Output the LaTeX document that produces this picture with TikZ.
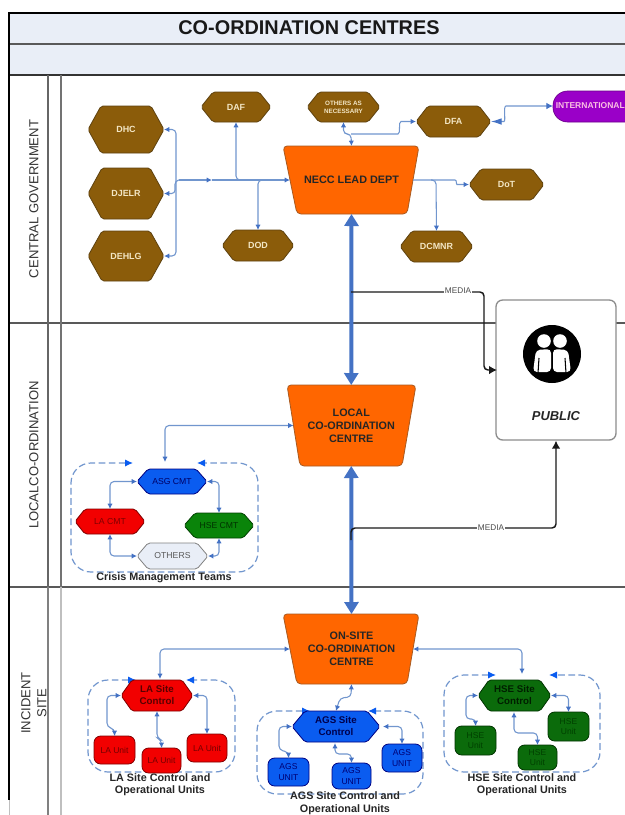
\documentclass[tikz,border=0pt]{standalone}
\usepackage{fontspec}
\setmainfont{Liberation Sans}
\usetikzlibrary{arrows.meta,calc}
\definecolor{band}{HTML}{E9EEF7}
\definecolor{brownfill}{HTML}{8B5C0A}
\definecolor{brownline}{HTML}{5E4210}
\definecolor{creamtext}{HTML}{F3E6C4}
\definecolor{orangefill}{HTML}{FF6600}
\definecolor{orangeline}{HTML}{A85A20}
\definecolor{connc}{HTML}{7196CE}
\definecolor{tipc}{HTML}{4472C4}
\definecolor{redfill}{HTML}{F20000}
\definecolor{bluefill}{HTML}{0A5CF0}
\definecolor{greenfill}{HTML}{0A840A}
\definecolor{dgreenfill}{HTML}{0B6B0B}
\definecolor{purplefill}{HTML}{9A00C8}
\newcommand{\fsz}[2]{\fontsize{#1}{#2}\selectfont}
\tikzset{
  brownhex/.style={fill=brownfill,draw=brownline,line width=.6pt},
  browntxt/.style={text=creamtext,font=\bfseries\fsz{6.7}{8}},
  trapfill/.style={fill=orangefill,draw=orangeline,line width=.6pt},
  traptxt/.style={text=black!85,font=\bfseries\fsz{8.1}{9.9}},
  redhex/.style={fill=redfill,draw=red!50!black,line width=.6pt},
  bluehex/.style={fill=bluefill,draw=blue!50!black,line width=.6pt},
  greenhex/.style={fill=greenfill,draw=green!25!black,line width=.6pt},
  dgreenhex/.style={fill=dgreenfill,draw=green!20!black,line width=.6pt},
  greyhex/.style={fill=band,draw=gray,line width=.6pt},
  conn/.style={draw=connc,line width=.8pt,rounded corners=3pt},
  dbl/.style={conn,{Latex[length=4pt,width=4pt,color=tipc]}-{Latex[length=4pt,width=4pt,color=tipc]}},
  sgl/.style={conn,-{Latex[length=4pt,width=4pt,color=tipc]}},
  thickarrow/.style={draw=tipc,line width=3pt,{Triangle[length=9pt,width=10.5pt]}-{Triangle[length=9pt,width=10.5pt]}},
  mediaarrow/.style={draw=black!90,line width=1.1pt,rounded corners=3pt,-{Latex[length=6pt,width=6.5pt]}},
  medialabel/.style={fill=white,inner sep=.6pt,text=black!70,font=\fsz{6.2}{7}},
  dashloop/.style={draw=connc,line width=.9pt,dash pattern=on 5pt off 2.6pt,rounded corners=15pt,
    {Latex[length=6pt,width=5.5pt,color=bluefill]}-{Latex[length=6pt,width=5.5pt,color=bluefill]}},
  unittxt/.style={font=\fsz{6.4}{7.7}},
  captiontxt/.style={text=black!85,font=\bfseries\fsz{8.1}{9.4},align=center},
  lane/.style={text=black!80,font=\fsz{9.8}{12},align=center},
  band line/.style={draw=black!65,line width=.8pt},
}
% name, x1, x2, y1, y2, chamfer, shape style, text style, text
\newcommand{\hexn}[9]{%
  \pgfmathsetmacro\nw{(#3-#2)*0.75}\pgfmathsetmacro\nh{(#5-#4)*0.75}%
  \path[#7,rounded corners=1.5pt] ({#2+#6},#4) -- ({#3-#6},#4) -- (#3,{(#4+#5)/2}) -- ({#3-#6},#5) -- ({#2+#6},#5) -- (#2,{(#4+#5)/2}) -- cycle;%
  \node[#8,align=center,inner sep=0pt,outer sep=0pt,minimum width=\nw pt,minimum height=\nh pt] (#1) at ({(#2+#3)/2},{(#4+#5)/2}) {#9};%
}
% name, top x1, top x2, bottom x1, bottom x2, y1, y2, text
\newcommand{\trapn}[8]{%
  \pgfmathsetmacro\nw{((#3-#2)+(#5-#4))/2*0.75}\pgfmathsetmacro\nh{(#7-#6)*0.75}%
  \path[trapfill,rounded corners=3pt] (#2,#6) -- (#3,#6) -- (#5,#7) -- (#4,#7) -- cycle;%
  \node[traptxt,align=center,inner sep=0pt,outer sep=0pt,minimum width=\nw pt,minimum height=\nh pt] (#1) at ({(#2+#3+#4+#5)/4},{(#6+#7)/2}) {#8};%
}
% name, x1, x2, y1, y2, fill/draw style, text colour, text
\newcommand{\unitn}[8]{%
  \pgfmathsetmacro\nw{(#3-#2)*0.75}\pgfmathsetmacro\nh{(#5-#4)*0.75}%
  \node[#6,rounded corners=5pt,text=#7,unittxt,align=center,inner sep=0pt,outer sep=0pt,minimum width=\nw pt,minimum height=\nh pt] (#1) at ({(#2+#3)/2},{(#4+#5)/2}) {#8};%
}
\begin{document}
\begin{tikzpicture}[x=0.75pt,y=-0.75pt]
\useasboundingbox (0,0) rectangle (625,815);
\fill[white] (0,0) rectangle (625,815);
% bands and lanes
\fill[band] (9,13) rectangle (625,75);
\draw[band line] (9,44) -- (625,44);
\draw[black!80,line width=.9pt] (9,75) -- (625,75);
\draw[band line] (9,323) -- (625,323);
\draw[band line] (9,587) -- (625,587);
\draw[black!60,line width=.8pt] (48,75) -- (48,587);
\draw[black!55,line width=.8pt] (61,75) -- (61,587);
\draw[black!50,line width=.8pt] (48,587) -- (48,815);
\draw[black!25,line width=.9pt] (61,587) -- (61,815);
\draw[black!25,line width=.7pt] (9,800) -- (9,815);
\draw[black,line width=1.3pt] (625,13) -- (9,13) -- (9,800);
\node[text=black!90,font=\bfseries\fsz{14.9}{17}] (title) at (309,28) {CO-ORDINATION CENTRES};
\node[lane,rotate=90] (lanea) at (34,199) {CENTRAL GOVERNMENT};
\node[lane,rotate=90] (laneb) at (34,455) {LOCALCO-ORDINATION};
\node[lane,rotate=90] (lanec) at (34,703) {INCIDENT\\SITE};

% dashed group loops
\draw[dashloop] (133,463) -- (71,463) -- (71,572) -- (258,572) -- (258,463) -- (197,463);
\draw[dashloop] (136,680) -- (88,680) -- (88,772) -- (235,772) -- (235,680) -- (186,680);
\draw[dashloop] (310,711) -- (257,711) -- (257,794) -- (423,794) -- (423,711) -- (368,711);
\draw[dashloop] (496,675) -- (444,675) -- (444,772) -- (600,772) -- (600,675) -- (549,675);

% central government
\hexn{dhc}{88}{164}{106}{153}{13}{brownhex}{browntxt}{DHC}
\hexn{djelr}{88}{164}{168}{219}{14}{brownhex}{browntxt}{DJELR}
\hexn{dehlg}{88}{164}{231}{281}{14}{brownhex}{browntxt}{DEHLG}
\hexn{daf}{201}{271}{92}{122}{12}{brownhex}{browntxt}{DAF}
\hexn{dod}{222}{294}{230}{261}{12}{brownhex}{browntxt}{DOD}
\hexn{othersn}{307}{380}{92}{122}{12}{brownhex}{text=creamtext,font=\bfseries\fsz{4.7}{6}}{OTHERS AS\\NECESSARY}
\hexn{dfa}{416}{491}{106}{137}{12}{brownhex}{browntxt}{DFA}
\hexn{dot}{469}{544}{169}{200}{12}{brownhex}{browntxt}{DoT}
\hexn{dcmnr}{400}{473}{231}{262}{12}{brownhex}{browntxt}{DCMNR}
\path[fill=purplefill,draw=purplefill!70!black,line width=.5pt,rounded corners=11pt] (553,91) rectangle (640,122);
\node[anchor=west,inner sep=0pt,text=magenta!25!white,font=\bfseries\fsz{6.4}{7}] (intl) at (555.5,106) {INTERNATIONAL};
\coordinate (intlw) at (553,106);
\trapn{necc}{283}{419}{297}{407}{146}{214}{NECC LEAD DEPT}
\trapn{local}{287}{416}{300}{402}{385}{466}{LOCAL\\CO-ORDINATION\\CENTRE}
\trapn{onsite}{283}{419}{297}{407}{614}{684}{ON-SITE\\CO-ORDINATION\\CENTRE}

% central connectors
\coordinate (hub) at (179,180);
\coordinate (midtip) at (212,180);
\draw[sgl] (hub) -- (midtip);
\draw[sgl] (midtip) -- (necc.west);
\draw[dbl] (dhc.east) -- (176,129.5) -- (176,256) -- (dehlg.east);
\draw[sgl,rounded corners=2.5pt] (hub) -- (175,181) -- (175,193.5) -- (djelr.east);
\draw[sgl] (240,180) -- (236,180) -- (daf.south);
\draw[sgl] (263,180) -- (258,180) -- (dod.north);
\draw[sgl] (necc.east) -- (451,180) .. controls (457,180) and (456,184.5) .. (461,184.5) -- (dot.west);
\draw[sgl] (431,180) -- (436,180) -- (dcmnr.north);
\draw[dbl] (othersn.south) -- (343.5,134) -- (351,134) -- (necc.north);
\draw[sgl] (351,134) -- (394,134) .. controls (401,134) and (398,121.5) .. (405,121.5) -- (dfa.west);
\draw[conn,{Latex[length=8pt,width=5pt,color=tipc]}-{Latex[length=5pt,width=5pt,color=tipc]}] (dfa.east) -- (500,121.5) .. controls (506,121.5) and (503,106) .. (510,106) -- (intlw);

% local crisis teams
\hexn{asg}{137}{207}{469}{494}{11}{bluehex}{text=blue!40!black,font=\fsz{6.5}{8}}{ASG CMT}
\hexn{lacmt}{75}{145}{509}{534}{10}{redhex}{text=red!50!black,font=\fsz{6.5}{8}}{LA CMT}
\hexn{hsecmt}{184}{254}{513}{538}{11}{greenhex}{text=green!20!black,font=\fsz{6.5}{8}}{HSE CMT}
\hexn{otherscmt}{137}{208}{543}{569}{11}{greyhex}{text=black!65,font=\fsz{6.5}{8}}{OTHERS}
\node[captiontxt] (crisis) at (164,577.5) {Crisis Management Teams};
\draw[dbl] (local.west) -- (165,425.5) -- (165,462);
\draw[dbl] (lacmt.north) -- (110,481.5) -- (asg.west);
\draw[dbl] (asg.east) -- (219,481.5) -- (hsecmt.north);
\draw[dbl] (lacmt.south) -- (110,556) -- (otherscmt.west);
\draw[dbl] (otherscmt.east) -- (219,556) -- (hsecmt.south);

% incident site nodes
\hexn{lasite}{121}{193}{680}{711}{11}{redhex}{text=red!35!black,font=\bfseries\fsz{7.3}{9}}{LA Site\\Control}
\unitn{launa}{94}{135}{736}{764}{redhex}{red!45!black}{LA Unit}
\unitn{launb}{142}{181}{748}{773}{redhex}{red!45!black}{LA Unit}
\unitn{launc}{187}{227}{734}{762}{redhex}{red!45!black}{LA Unit}
\hexn{agssite}{292}{380}{711}{742}{13}{bluehex}{text=blue!30!black,font=\bfseries\fsz{7.3}{9}}{AGS Site\\Control}
\unitn{agsa}{268}{309}{758}{786}{bluehex}{blue!45!black}{AGS\\UNIT}
\unitn{agsb}{332}{371}{763}{789}{bluehex}{blue!45!black}{AGS\\UNIT}
\unitn{agsc}{382}{422}{744}{772}{bluehex}{blue!45!black}{AGS\\UNIT}
\hexn{hsesite}{478}{551}{680}{711}{11}{dgreenhex}{text=green!12!black,font=\bfseries\fsz{7.3}{9}}{HSE Site\\Control}
\unitn{hsea}{455}{496}{726}{755}{dgreenhex}{green!25!black}{HSE\\Unit}
\unitn{hseb}{518}{557}{745}{770}{dgreenhex}{green!25!black}{HSE\\Unit}
\unitn{hsec}{548}{589}{712}{741}{dgreenhex}{green!25!black}{HSE\\Unit}
\node[captiontxt] (lacap) at (160,784.5) {LA Site Control and\\Operational Units};
\node[captiontxt] (agscap) at (345,803) {AGS Site Control and\\Operational Units};
\node[captiontxt] (hsecap) at (522,784.5) {HSE Site Control and\\Operational Units};

% incident connectors
\draw[dbl] (onsite.west) -- (160,649) -- (160,679);
\draw[dbl] (onsite.east) -- (522,649) -- (522,674);
\draw[dbl] (onsite.south) -- (351,697) -- (340,698) -- (agssite.north);
\draw[dbl] (lasite.west) -- (107,695.5) -- (107,727) -- (114.5,729) -- (launa.north);
\draw[dbl] (lasite.south) -- (157,738) -- (161.5,740) -- (launb.north);
\draw[dbl] (lasite.east) -- (207,695.5) -- (launc.north);
\draw[dbl] (agssite.west) -- (279,726.5) -- (279,750) -- (288.5,752) -- (agsa.north);
\draw[dbl] (335,743) -- (335,754) -- (351.5,754) -- (agsb.north);
\draw[dbl] (383,726.5) -- (402,726.5) -- (agsc.north);
\draw[dbl] (hsesite.west) -- (466,695.5) -- (466,719) -- (475.5,719) -- (hsea.north);
\draw[dbl] (514,712) -- (514,733) -- (537.5,733) -- (hseb.north);
\draw[dbl] (hsesite.east) -- (568.5,695.5) -- (hsec.north);

% public box
\node[draw=black!45,fill=white,line width=1pt,rounded corners=5pt,inner sep=0pt,minimum width=90pt,minimum height=105pt] (public) at (556,370) {};
\node[circle,fill=black,inner sep=0pt,minimum size=43.5pt] (icon) at (552,354) {};
\fill[white] (544,341) circle (6.8) (560,341) circle (6.8);
\fill[white,rounded corners=3pt] (533,372) -- (536,350) -- (551,349) -- (551,372) -- cycle;
\fill[white,rounded corners=3pt] (553,372) -- (553,349) -- (568,350) -- (571,372) -- cycle;
\draw[black,line width=.8pt] (539,358) -- (538,373) (565,358) -- (566,373);
\node[text=black!85,font=\bfseries\itshape\fsz{9.7}{11}] (publictxt) at (556,416) {PUBLIC};

% main trunk arrows
\draw[thickarrow] (necc.south) -- (local.north);
\draw[thickarrow] (local.south) -- (onsite.north);

% media
\coordinate (mediaa) at (351,292);
\coordinate (mediab) at (351,540);
\coordinate (publicw) at (497,370);
\draw[mediaarrow] (mediaa) -- (484,292) -- (484,370) -- (publicw);
\node[medialabel] (medialaba) at (458,291) {MEDIA};
\draw[mediaarrow] (mediab) -- (351,528) -- (556,528) -- (public.south);
\node[medialabel] (medialabb) at (491,528) {MEDIA};
\end{tikzpicture}
\end{document}
